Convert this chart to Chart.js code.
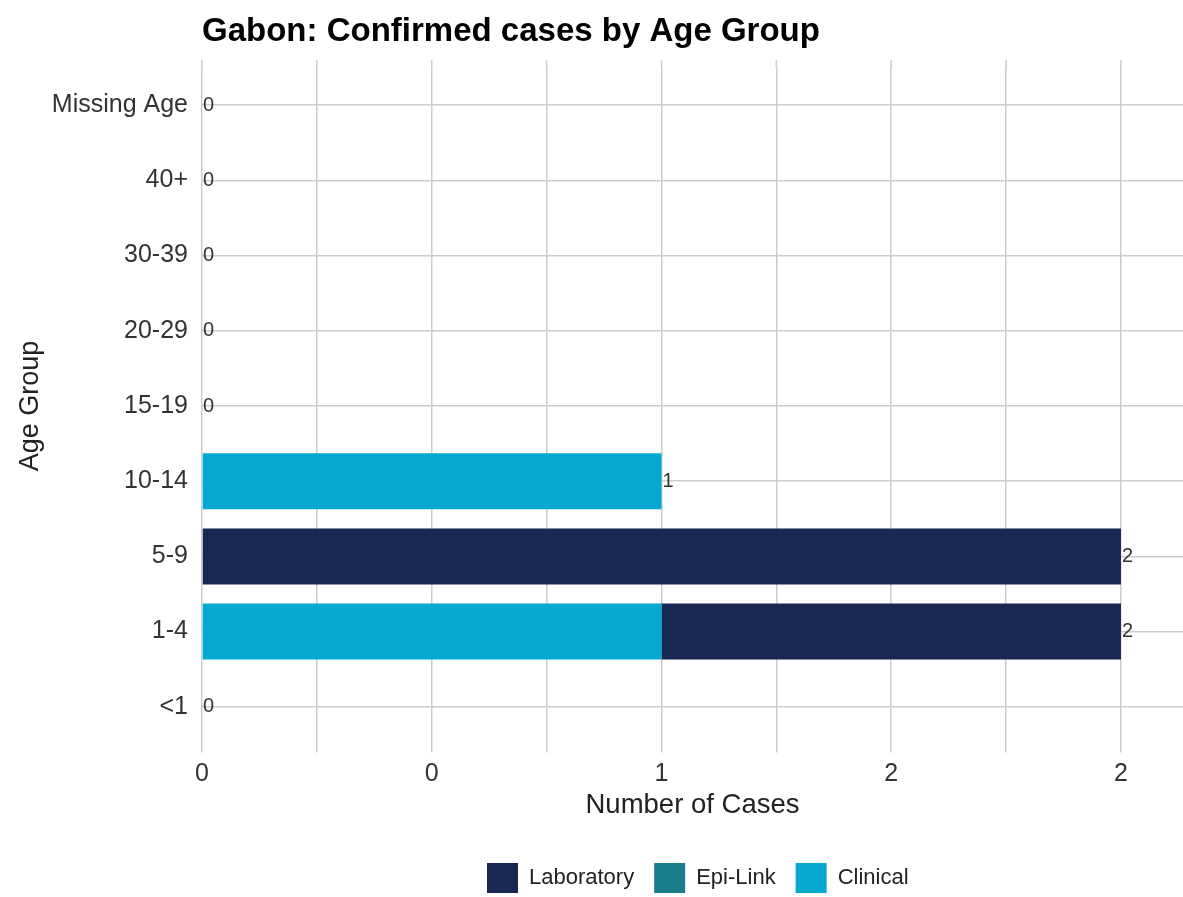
<!DOCTYPE html>
<html>
<head>
<meta charset="utf-8">
<script src="https://cdn.jsdelivr.net/npm/chart.js@4/dist/chart.umd.min.js"></script>
<style>
  html, body { margin: 0; padding: 0; background: #ffffff; overflow: hidden; }
  #wrap { position: relative; width: 1183px; height: 897px; }
</style>
</head>
<body>
<div id="wrap"><canvas id="c"></canvas></div>
<script>
// ---- Data ----
const titleText = 'Gabon: Confirmed cases by Age Group';
const categories = ['Missing Age', '40+', '30-39', '20-29', '15-19', '10-14', '5-9', '1-4', '<1'];
const laboratory = [0, 0, 0, 0, 0, 0, 2, 1, 0];
const epiLink    = [0, 0, 0, 0, 0, 0, 0, 0, 0];
const clinical   = [0, 0, 0, 0, 0, 1, 0, 1, 0];
const xTickValues = [0, 0.5, 1, 1.5, 2];
const xTickLabels = ['0', '0', '1', '2', '2'];
const xAxisTitle = 'Number of Cases';
const yAxisTitle = 'Age Group';

// ---- Styles ----
const FONT = "'Liberation Sans', Arial, Helvetica, sans-serif";
const GRID = '#cccccc';
const colLab = '#172853';
const colEpi = '#1a7d8c';
const colCli = '#03a9cf';

const layoutPlugin = {
  id: 'layoutTweaks',
  afterLayout(chart) {
    const ca = chart.chartArea;
    if (chart.titleBlock) {
      const w = chart.titleBlock.right - chart.titleBlock.left;
      chart.titleBlock.left = ca.left;
      chart.titleBlock.right = ca.left + w;
    }
    const lg = chart.legend;
    if (lg && lg.lineWidths) {
      const pad = lg.options.labels.padding;
      const cur = (lg.left + pad + lg.right - lg.lineWidths[0]) / 2;
      const dx = 487 - cur;
      lg.left += dx; lg.right += dx;
      const dy = 863 - (lg.top + pad);
      lg.top += dy; lg.bottom += dy;
    }
  },
  beforeDatasetsDraw(chart) {
    const ctx = chart.ctx, xs = chart.scales.x, ca = chart.chartArea;
    ctx.save();
    ctx.strokeStyle = GRID;
    ctx.lineWidth = 1.5;
    xs.ticks.forEach(t => {
      const px = xs.getPixelForValue(t.value);
      ctx.beginPath();
      ctx.moveTo(px, ca.top - 7.5);
      ctx.lineTo(px, ca.top);
      ctx.stroke();
    });
    ctx.restore();
  },
  afterDatasetsDraw(chart) {
    const ctx = chart.ctx, xs = chart.scales.x, ys = chart.scales.y;
    ctx.save();
    ctx.font = '20px ' + FONT;
    ctx.fillStyle = '#333333';
    ctx.textAlign = 'left';
    ctx.textBaseline = 'middle';
    categories.forEach((c, i) => {
      const total = laboratory[i] + epiLink[i] + clinical[i];
      ctx.fillText(String(total), xs.getPixelForValue(total) + 1, ys.getPixelForValue(i));
    });
    ctx.restore();
  }
};

new Chart(document.getElementById('c'), {
  type: 'bar',
  data: {
    labels: categories,
    datasets: [
      { label: 'Clinical', data: clinical, backgroundColor: colCli, borderWidth: 0 },
      { label: 'Epi-Link', data: epiLink, backgroundColor: colEpi, borderWidth: 0 },
      { label: 'Laboratory', data: laboratory, backgroundColor: colLab, borderWidth: 0 }
    ]
  },
  options: {
    indexAxis: 'y',
    responsive: true,
    maintainAspectRatio: false,
    animation: false,
    events: [],
    layout: { padding: { left: 0, right: 0, top: 0, bottom: 0 } },
    datasets: { bar: { barPercentage: 0.745, categoryPercentage: 1.0 } },
    plugins: {
      title: {
        display: true,
        text: titleText,
        align: 'start',
        color: '#000000',
        font: { family: FONT, size: 33, weight: 'bold' },
        padding: { top: 12.2, bottom: 15.8 }
      },
      legend: {
        display: true,
        position: 'bottom',
        reverse: true,
        labels: {
          boxWidth: 31,
          boxHeight: 30,
          padding: 20,
          color: '#222222',
          font: { family: FONT, size: 22 }
        }
      },
      tooltip: { enabled: false }
    },
    scales: {
      x: {
        type: 'linear',
        stacked: true,
        min: 0,
        max: 2.135,
        border: { display: false },
        grid: { color: GRID, lineWidth: 1.5, drawTicks: true, tickLength: 8, tickColor: GRID },
        ticks: {
          stepSize: 0.25,
          includeBounds: false,
          autoSkip: false,
          maxRotation: 0,
          padding: 7,
          color: '#333333',
          font: { family: FONT, size: 25 },
          callback: (v) => {
            const k = xTickValues.findIndex(t => Math.abs(t - v) < 1e-9);
            return k >= 0 ? xTickLabels[k] : '';
          }
        },
        title: {
          display: true,
          text: xAxisTitle,
          color: '#222222',
          font: { family: FONT, size: 27.5 },
          padding: { top: 0, bottom: 15.5 }
        },
        afterFit: (s) => { s.height = 92.6; }
      },
      y: {
        type: 'category',
        stacked: true,
        offset: true,
        border: { display: false },
        grid: { color: GRID, lineWidth: 1.5, drawTicks: false, offset: false },
        ticks: {
          padding: 14,
          color: '#333333',
          font: { family: FONT, size: 25 }
        },
        title: {
          display: true,
          text: yAxisTitle,
          color: '#222222',
          font: { family: FONT, size: 27 },
          padding: { top: 14.4, bottom: 0 }
        },
        afterFit: (s) => { s.width = 202; }
      }
    }
  },
  plugins: [layoutPlugin]
});
</script>
</body>
</html>
